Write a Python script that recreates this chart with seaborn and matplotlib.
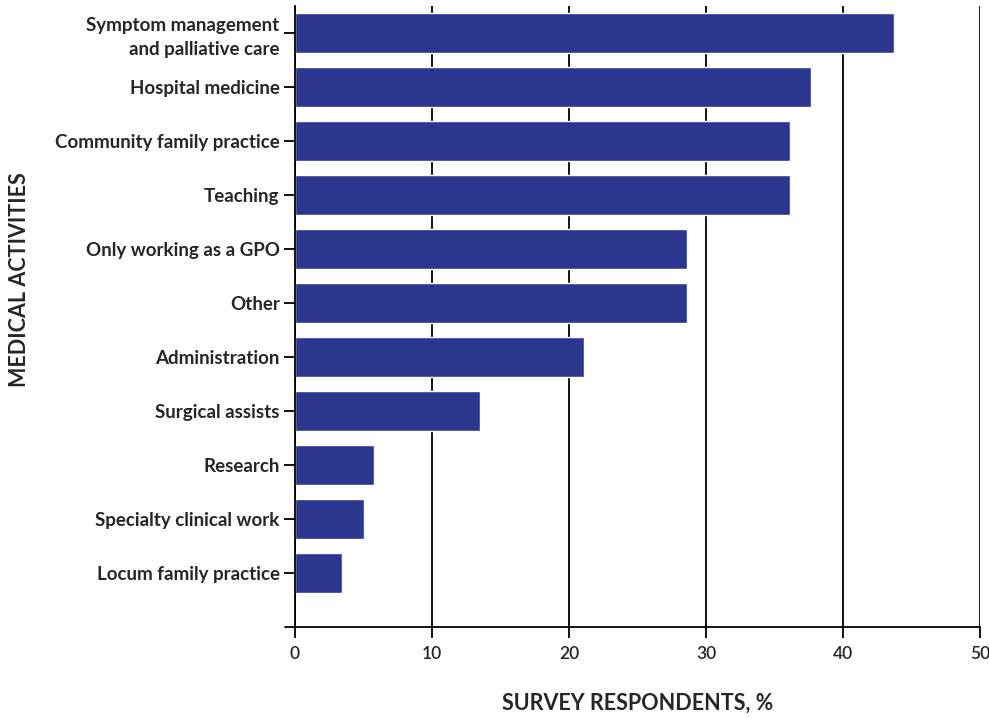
import numpy as np
import pandas as pd
import matplotlib
matplotlib.use('Agg')
import matplotlib.pyplot as plt
import seaborn as sns

activities = ['Symptom management\nand palliative care', 'Hospital medicine',
              'Community family practice', 'Teaching', 'Only working as a GPO',
              'Other', 'Administration', 'Surgical assists', 'Research',
              'Specialty clinical work', 'Locum family practice']
percent = [43.7, 37.7, 36.1, 36.1, 28.6, 28.6, 21.1, 13.5, 5.8, 5.0, 3.4]

df = pd.DataFrame({'activity': activities, 'pct': percent})

sns.set_style('white')
plt.rcParams['font.family'] = ['Lato', 'DejaVu Sans']

fig = plt.figure(figsize=(9.89, 7.18), dpi=100)
ax = fig.add_axes([295 / 989, 1 - 627 / 718, 685 / 989, 621 / 718])

sns.barplot(data=df, y='activity', x='pct', orient='h', color='#2b378f',
            saturation=1, width=0.74, ax=ax)

ax.set_xlim(0, 50)
ax.set_ylim(11, -0.5)
ax.set_xticks([0, 10, 20, 30, 40, 50])
ax.xaxis.grid(True, color='black', lw=1.3)
ax.set_axisbelow(True)
for s in ['top', 'right']:
    ax.spines[s].set_visible(False)
for s in ['left', 'bottom']:
    ax.spines[s].set_color('black')
    ax.spines[s].set_linewidth(1.3)
# bottom axis runs a little past zero on the left
ax.plot([-0.015, 0], [0, 0], transform=ax.transAxes, color='black', lw=1.3, clip_on=False)

ax.tick_params(axis='y', left=True, length=8, width=1.3, color='black', labelsize=13.5, pad=3)
ax.tick_params(axis='x', bottom=True, length=8, width=1.3, color='black', labelsize=12.5, pad=6)
for t in ax.get_yticklabels():
    t.set_fontweight('bold')
    t.set_multialignment('right')
    t.set_linespacing(1.45)
for t in ax.get_xticklabels():
    t.set_fontweight('semibold')
ax.set_xlabel('')
ax.set_ylabel('')

fig.text(638 / 989, 1 - 703 / 718, 'SURVEY RESPONDENTS, %', ha='center', va='center',
         fontsize=15.5, fontweight='bold')
fig.text(20 / 989, 1 - 280 / 718, 'MEDICAL ACTIVITIES', ha='center', va='center',
         rotation=90, fontsize=15.5, fontweight='bold')

fig.savefig('out.png', dpi=100)
